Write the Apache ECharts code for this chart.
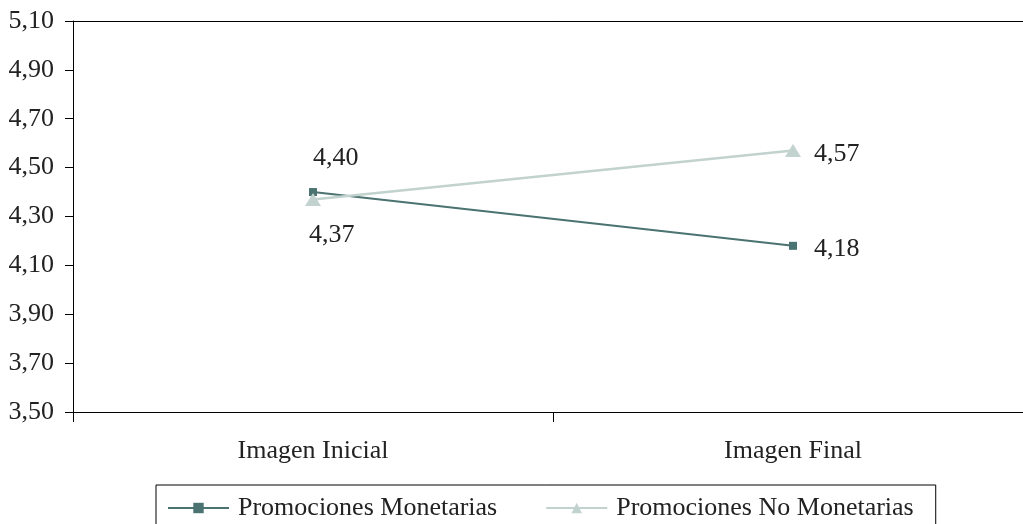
<!DOCTYPE html>
<html>
<head>
<meta charset="utf-8">
<script src="https://cdn.jsdelivr.net/npm/echarts@6/dist/echarts.min.js"></script>
<style>
  html, body { margin: 0; padding: 0; background: #ffffff; overflow: hidden; }
  /* the plot runs a little past the right edge of the page */
  #chart { width: 1033px; height: 524px; }
</style>
</head>
<body>
<div id="chart"></div>
<script>
// Mean image score before and after the promotion, by promotion type
const categories = ['Imagen Inicial', 'Imagen Final'];
const seriesNames = ['Promociones Monetarias', 'Promociones No Monetarias'];
const monetarias = [4.40, 4.18];
const noMonetarias = [4.37, 4.57];
const yMin = 3.5, yMax = 5.1, yStep = 0.2;

const FONT = '"Liberation Serif", "Times New Roman", serif';
const DARK = '#4a7371';
const LIGHT = '#c2d2ce';

const fmt = v => Number(v).toFixed(2).replace('.', ',');

// per-point label placement
const monLabels = [
  { position: 'top', align: 'left', distance: 17 },
  { position: 'right', distance: 17, offset: [0, 3] }
];
const noMonLabels = [
  { position: 'bottom', align: 'left', distance: 16, offset: [-4, 0] },
  { position: 'right', distance: 13, offset: [0, 4] }
];

const toData = (vals, labels) => vals.map((v, i) => ({ value: v, label: labels[i] }));

const labelStyle = {
  show: true,
  fontFamily: FONT,
  fontSize: 26,
  color: '#222222',
  formatter: p => fmt(p.value)
};

const chart = echarts.init(document.getElementById('chart'));
chart.setOption({
  animation: false,
  backgroundColor: '#ffffff',
  grid: { left: 73, right: 0, top: 21, bottom: 112, containLabel: false },
  xAxis: [
    {
      type: 'category',
      data: categories,
      boundaryGap: true,
      axisLine: { lineStyle: { color: '#000000', width: 1 } },
      axisTick: { show: true, length: 10, lineStyle: { color: '#000000' } },
      axisLabel: { margin: 26, fontFamily: FONT, fontSize: 26, color: '#222222' }
    },
    {
      type: 'category',
      data: categories,
      position: 'top',
      axisLine: { show: true, lineStyle: { color: '#000000', width: 1 } },
      axisTick: { show: false },
      axisLabel: { show: false }
    }
  ],
  yAxis: {
    type: 'value',
    min: yMin,
    max: yMax,
    interval: yStep,
    axisLine: { show: true, lineStyle: { color: '#000000', width: 1 } },
    axisTick: { show: true, length: 8, lineStyle: { color: '#000000' } },
    splitLine: { show: false },
    axisLabel: {
      margin: 19,
      fontFamily: FONT,
      fontSize: 26,
      color: '#222222',
      formatter: v => fmt(v)
    }
  },
  legend: {
    left: 156,
    top: 485,
    orient: 'horizontal',
    borderColor: '#000000',
    borderWidth: 1,
    padding: [10, 22, 10, 11],
    itemWidth: 61,
    itemHeight: 13,
    itemGap: 48,
    textStyle: { fontFamily: FONT, fontSize: 26, color: '#222222', padding: [0, 0, 0, 4] },
    data: seriesNames
  },
  series: [
    {
      name: seriesNames[0],
      type: 'line',
      data: toData(monetarias, monLabels),
      symbol: 'rect',
      symbolSize: 8,
      showAllSymbol: true,
      lineStyle: { color: DARK, width: 2 },
      itemStyle: { color: DARK },
      label: labelStyle,
      z: 3
    },
    {
      name: seriesNames[1],
      type: 'line',
      data: toData(noMonetarias, noMonLabels),
      symbol: 'triangle',
      symbolSize: [16, 13],
      showAllSymbol: true,
      lineStyle: { color: LIGHT, width: 2.5 },
      itemStyle: { color: LIGHT },
      label: labelStyle,
      z: 4
    }
  ]
});
</script>
</body>
</html>
